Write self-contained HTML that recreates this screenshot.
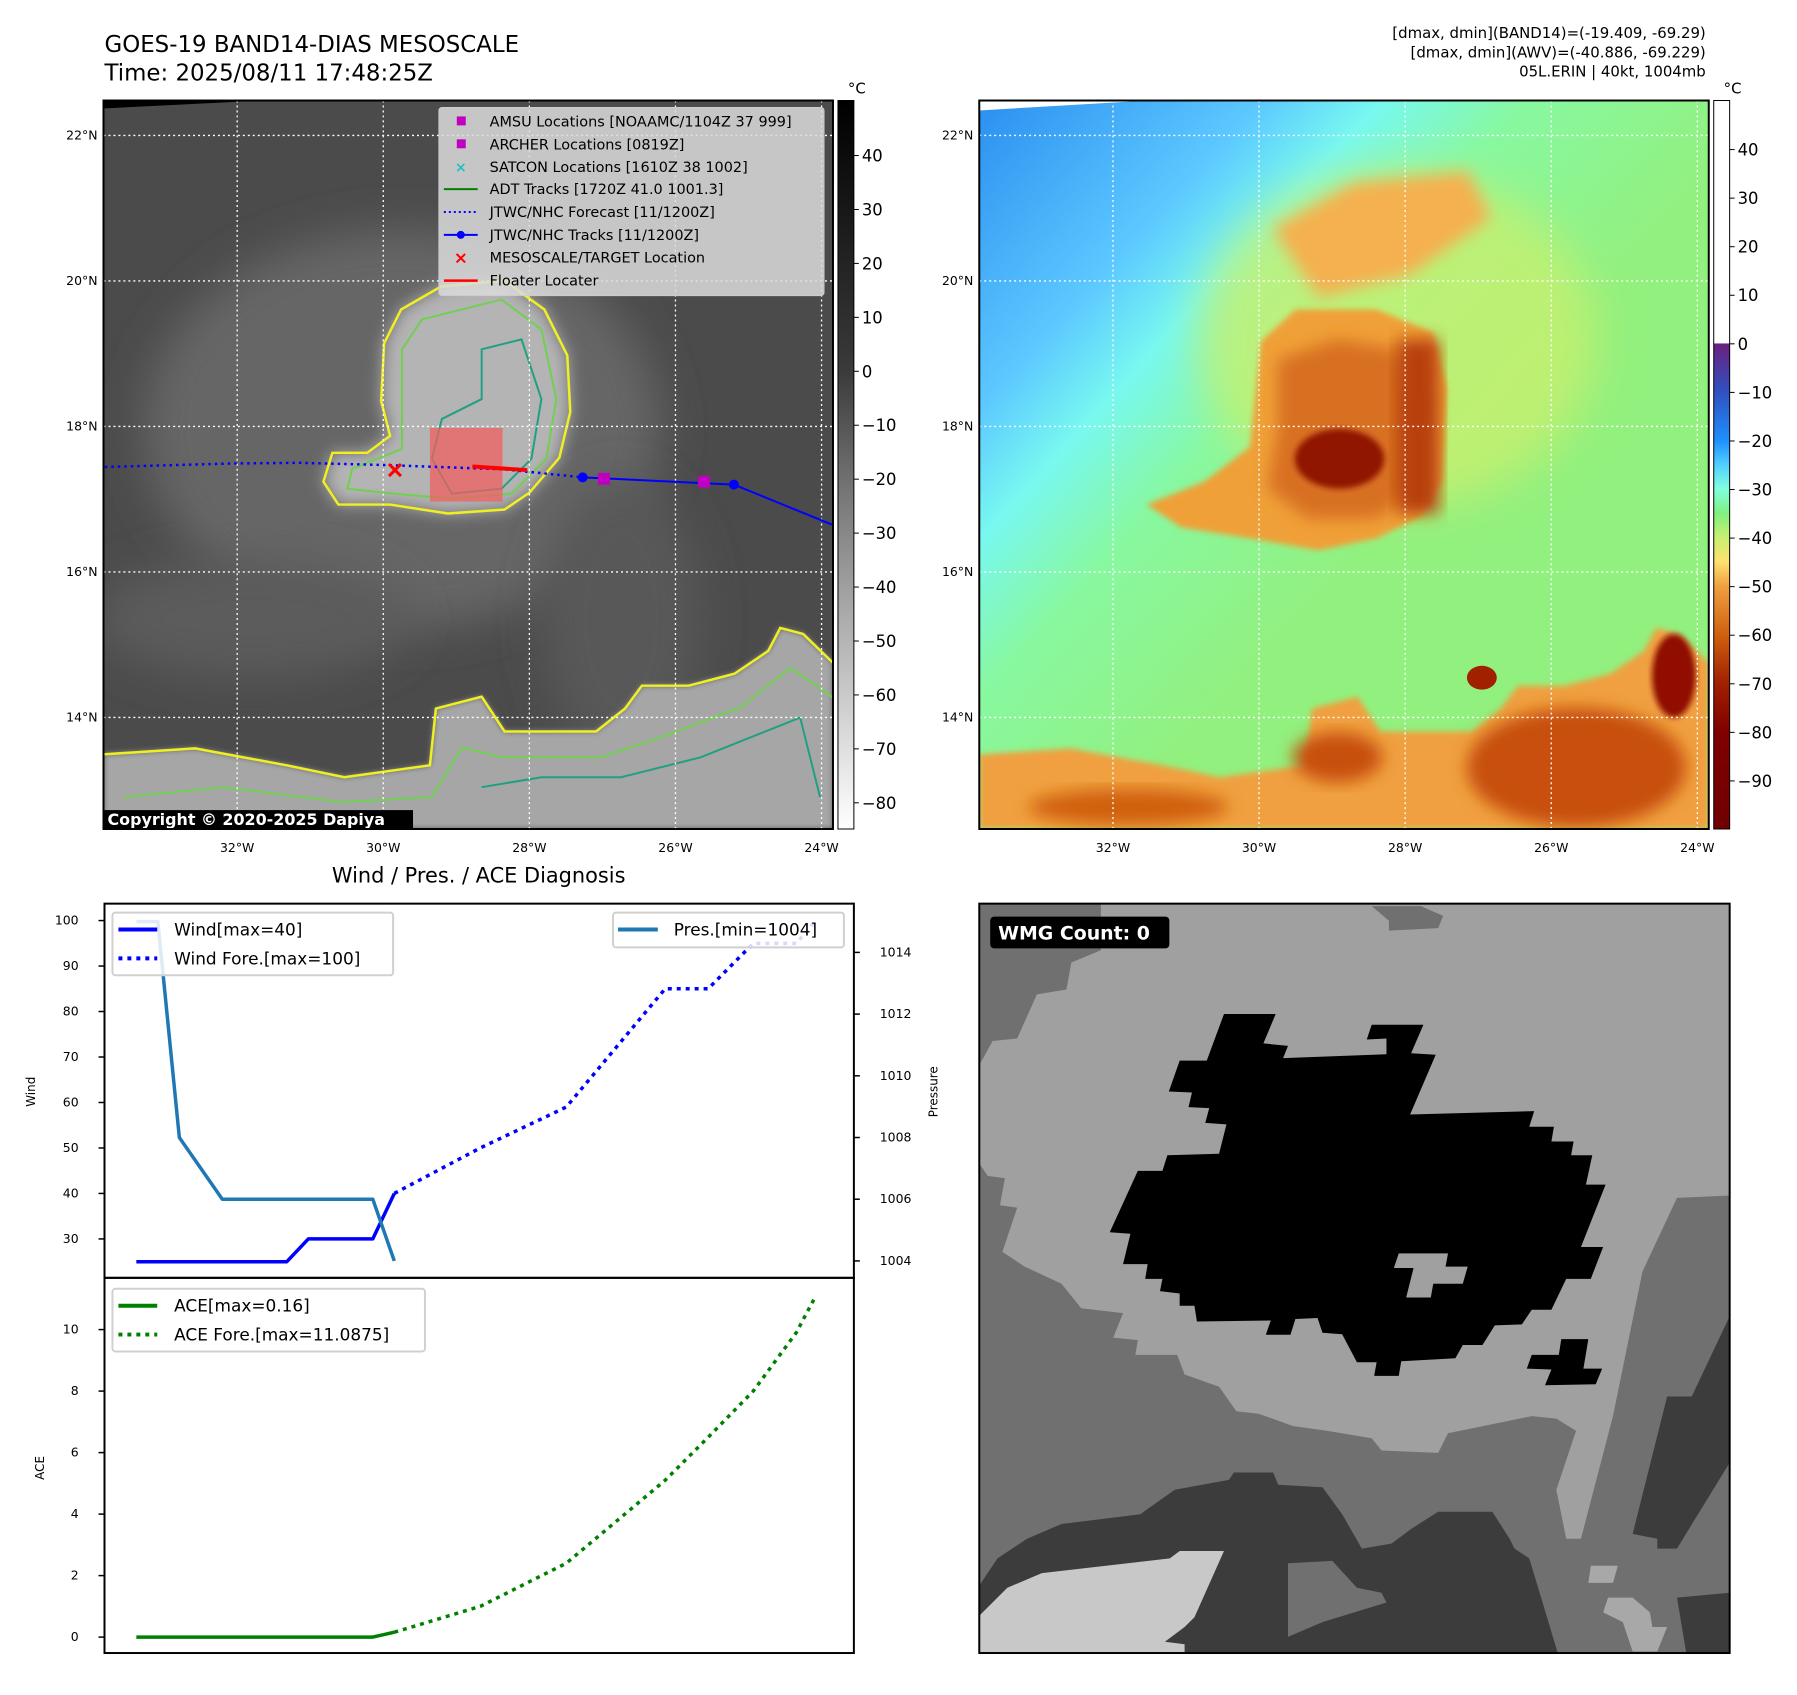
<!DOCTYPE html>
<html><head><meta charset="utf-8"><style>
html,body{margin:0;padding:0;background:#fff;}
svg text{font-family:"DejaVu Sans","Liberation Sans",sans-serif;}
</style></head><body>
<svg id="fig" xmlns="http://www.w3.org/2000/svg" width="1797" height="1690" viewBox="0 0 1797 1690">
<defs>
<filter id="b8" x="-20%" y="-20%" width="140%" height="140%"><feGaussianBlur stdDeviation="8"/></filter>
<filter id="b20" x="-30%" y="-30%" width="160%" height="160%"><feGaussianBlur stdDeviation="22"/></filter>
<filter id="b4"><feGaussianBlur stdDeviation="3"/></filter>
<linearGradient id="cbGray" x1="0" y1="0" x2="0" y2="1">
<stop offset="0" stop-color="#000"/><stop offset="0.37" stop-color="#3a3a3a"/><stop offset="0.52" stop-color="#707070"/><stop offset="0.67" stop-color="#a0a0a0"/><stop offset="1" stop-color="#fff"/></linearGradient>
<linearGradient id="cbCol" x1="0" y1="0" x2="0" y2="1">
<stop offset="0" stop-color="#fff"/><stop offset="0.333" stop-color="#fff"/><stop offset="0.334" stop-color="#6a2080"/><stop offset="0.40" stop-color="#3050c0"/><stop offset="0.467" stop-color="#1e90ff"/><stop offset="0.5" stop-color="#50d0ff"/><stop offset="0.533" stop-color="#80ffe0"/><stop offset="0.567" stop-color="#80f080"/><stop offset="0.6" stop-color="#c8f070"/><stop offset="0.633" stop-color="#ffe070"/><stop offset="0.667" stop-color="#f0a040"/><stop offset="0.733" stop-color="#d06010"/><stop offset="0.8" stop-color="#a02000"/><stop offset="0.867" stop-color="#800000"/><stop offset="1" stop-color="#700000"/></linearGradient>
<linearGradient id="bg2" x1="0" y1="0" x2="0.6" y2="0.55">
<stop offset="0" stop-color="#2a8ff0"/><stop offset="0.35" stop-color="#5cc8ff"/><stop offset="0.5" stop-color="#78f8f0"/><stop offset="0.68" stop-color="#88f8a0"/><stop offset="1" stop-color="#92f07e"/></linearGradient>
<clipPath id="c1"><rect x="0" y="0" width="733" height="732"/></clipPath>
</defs>
<g transform="scale(0.9952)">
<text x="105" y="52" font-size="23">GOES-19 BAND14-DIAS MESOSCALE</text>
<text x="105" y="81" font-size="23">Time: 2025/08/11 17:48:25Z</text>
<g font-size="15" text-anchor="end">
<text x="1714" y="38">[dmax, dmin](BAND14)=(-19.409, -69.29)</text>
<text x="1714" y="58">[dmax, dmin](AWV)=(-40.886, -69.229)</text>
<text x="1714" y="77">05L.ERIN | 40kt, 1004mb</text>
</g>

<!-- MAP 1 -->
<svg id="map1" x="104" y="101" width="733" height="732" viewBox="0 0 733 732">
<g clip-path="url(#c1)">
<rect width="733" height="732" fill="#4b4b4b"/>
<ellipse cx="300" cy="330" rx="260" ry="200" fill="#666" filter="url(#b20)"/>
<ellipse cx="150" cy="520" rx="160" ry="60" fill="#5c5c5c" filter="url(#b20)"/>
<ellipse cx="520" cy="520" rx="80" ry="140" fill="#595959" filter="url(#b20)"/>
<polygon points="0,0 160,0 0,8" fill="#000"/>
<path d="M282,244 L299,210 L339,187 L403,181 L443,210 L466,256 L469,313 L458,359 L428,394 L403,411 L346,415 L288,406 L236,406 L221,383 L230,354 L265,354 L288,337 L279,302Z" fill="#b4b4b4" filter="url(#b8)"/>
<polygon points="0,657 92,651 184,668 242,680 328,668 334,611 380,599 403,634 495,634 524,611 541,588 588,588 634,576 668,553 680,530 703,536 733,565 733,732 0,732" fill="#a6a6a6" filter="url(#b4)"/>
<polyline points="0,657 92,651 184,668 242,680 328,668 334,611 380,599 403,634 495,634 524,611 541,588 588,588 634,576 668,553 680,530 703,536 733,565" fill="none" stroke="#f0f020" stroke-width="2.5"/>
<polyline points="20,700 120,690 240,705 330,700 360,650 400,660 500,660 560,640 640,610 690,570 733,600" fill="none" stroke="#70d050" stroke-width="2"/>
<polyline points="380,690 440,680 520,680 600,660 650,640 700,620 720,700" fill="none" stroke="#20a080" stroke-width="2"/>
<path d="M282,244 L299,210 L339,187 L403,181 L443,210 L466,256 L469,313 L458,359 L428,394 L403,411 L346,415 L288,406 L236,406 L221,383 L230,354 L265,354 L288,337 L279,302Z" fill="none" stroke="#f0f020" stroke-width="2.5"/>
<path d="M300,250 L320,220 L400,200 L440,230 L455,300 L445,360 L410,395 L350,400 L290,395 L245,390 L250,370 L300,350 L300,300Z" fill="none" stroke="#70d050" stroke-width="2"/>
<path d="M380,250 L420,240 L440,300 L430,360 L400,390 L350,395 L330,360 L340,320 L380,300Z" fill="none" stroke="#20a080" stroke-width="2"/>
<rect x="328" y="329" width="73" height="74" fill="#f06060" fill-opacity="0.75"/>
<g id="gridlines1"></g>
<g id="tracks1"></g>
</g>
<rect x="0" y="713" width="311" height="19" fill="#000"/>
<text x="4" y="728" font-size="16" font-weight="bold" fill="#fff">Copyright © 2020-2025 Dapiya</text>
</svg>
<rect x="104" y="101" width="733" height="732" fill="none" stroke="#000" stroke-width="2"/>
<g>
<rect x="441" y="108" width="387" height="189" rx="3" fill="#dcdcdc" fill-opacity="0.85" stroke="#ccc"/>
<g font-size="14.5">
<rect x="459" y="117" width="9" height="9" fill="#c000c0"/><text x="492" y="127">AMSU Locations [NOAAMC/1104Z 37 999]</text>
<rect x="459" y="140" width="9" height="9" fill="#c000c0"/><text x="492" y="150">ARCHER Locations [0819Z]</text>
<text x="463" y="173" font-size="14" fill="#20c0c0" text-anchor="middle" font-weight="bold">×</text><text x="492" y="173">SATCON Locations [1610Z 38 1002]</text>
<line x1="446" y1="190" x2="480" y2="190" stroke="#008000" stroke-width="2"/><text x="492" y="195">ADT Tracks [1720Z 41.0 1001.3]</text>
<line x1="446" y1="213" x2="480" y2="213" stroke="#0000ff" stroke-width="2" stroke-dasharray="2,3"/><text x="492" y="218">JTWC/NHC Forecast [11/1200Z]</text>
<line x1="446" y1="236" x2="480" y2="236" stroke="#0000ff" stroke-width="2"/><circle cx="463" cy="236" r="4" fill="#0000ff"/><text x="492" y="241">JTWC/NHC Tracks [11/1200Z]</text>
<text x="463" y="265" font-size="17" fill="#ff0000" text-anchor="middle" font-weight="bold">×</text><text x="492" y="264">MESOSCALE/TARGET Location</text>
<line x1="446" y1="282" x2="480" y2="282" stroke="#ff0000" stroke-width="2.5"/><text x="492" y="287">Floater Locater</text>
</g></g>
<rect x="842" y="101" width="16" height="732" fill="url(#cbGray)" stroke="#000" stroke-width="1"/>
<text x="852" y="94" font-size="15">°C</text>
<g id="cb1ticks"></g>

<!-- MAP 2 -->
<svg id="map2" x="984" y="101" width="733" height="732" viewBox="0 0 733 732">
<g clip-path="url(#c1)">
<rect width="733" height="732" fill="url(#bg2)"/>
<polygon points="0,0 170,0 0,10" fill="#fff"/>
<ellipse cx="420" cy="240" rx="200" ry="170" fill="#c8f070" filter="url(#b20)" opacity="0.8"/>
<path d="M295,129 L376,83 L491,71 L514,118 L433,175 L341,198Z" fill="#f5b050" filter="url(#b8)"/>
<path d="M283,242 L318,210 L399,210 L456,233 L470,290 L465,382 L445,417 L399,440 L341,452 L272,440 L203,429 L168,406 L226,383 L272,348 L278,291Z" fill="#f0a038" filter="url(#b4)"/>
<path d="M300,260 L360,240 L420,250 L450,300 L440,390 L400,420 L330,420 L290,390 L300,330Z" fill="#d87020" filter="url(#b8)"/>
<rect x="420" y="240" width="42" height="175" fill="#b84010" filter="url(#b8)"/>
<ellipse cx="362" cy="360" rx="45" ry="30" fill="#901800" filter="url(#b4)"/>
<polygon points="0,657 92,651 184,668 242,680 328,668 334,611 380,599 403,634 495,634 524,611 541,588 588,588 634,576 668,553 680,530 703,536 733,565 733,732 0,732" fill="#f0a040" filter="url(#b4)"/>
<ellipse cx="600" cy="670" rx="110" ry="60" fill="#c85010" filter="url(#b8)"/>
<ellipse cx="360" cy="660" rx="45" ry="25" fill="#c85010" filter="url(#b8)"/>
<ellipse cx="150" cy="710" rx="100" ry="18" fill="#d06010" filter="url(#b8)"/>
<ellipse cx="698" cy="578" rx="22" ry="42" fill="#901000" filter="url(#b4)"/>
<ellipse cx="505" cy="580" rx="15" ry="12" fill="#a02000"/>
<g id="gridlines2"></g>
</g>
</svg>
<rect x="984" y="101" width="733" height="732" fill="none" stroke="#000" stroke-width="2"/>
<rect x="1722" y="101" width="16" height="732" fill="url(#cbCol)" stroke="#000" stroke-width="1"/>
<text x="1732" y="94" font-size="15">°C</text>
<g id="cb2ticks"></g>
<g id="axlabels"></g>

<!-- CHART -->
<text x="481" y="887" font-size="21" text-anchor="middle">Wind / Pres. / ACE Diagnosis</text>
<g id="chart"></g>
<rect x="105" y="908" width="753" height="376" fill="none" stroke="#000" stroke-width="2"/>
<rect x="105" y="1284" width="753" height="377" fill="none" stroke="#000" stroke-width="2"/>
<text transform="translate(35,1097) rotate(-90)" font-size="12" text-anchor="middle">Wind</text>
<text transform="translate(942,1097) rotate(-90)" font-size="12" text-anchor="middle">Pressure</text>
<text transform="translate(44,1475) rotate(-90)" font-size="12" text-anchor="middle">ACE</text>
<g>
<rect x="113" y="917" width="282" height="63" rx="3" fill="#fff" fill-opacity="0.85" stroke="#d0d0d0" stroke-width="2"/>
<line x1="119" y1="934" x2="158" y2="934" stroke="#0000ff" stroke-width="4"/>
<line x1="119" y1="963" x2="158" y2="963" stroke="#0000ff" stroke-width="4" stroke-dasharray="4,5"/>
<text x="175" y="940" font-size="17">Wind[max=40]</text><text x="175" y="969" font-size="17">Wind Fore.[max=100]</text></g>
<g>
<rect x="616" y="917" width="232" height="35" rx="3" fill="#fff" fill-opacity="0.85" stroke="#d0d0d0" stroke-width="2"/>
<line x1="621" y1="934" x2="661" y2="934" stroke="#1f77b4" stroke-width="4"/>
<text x="677" y="940" font-size="17">Pres.[min=1004]</text></g>
<g>
<rect x="113" y="1295" width="314" height="63" rx="3" fill="#fff" fill-opacity="0.85" stroke="#d0d0d0" stroke-width="2"/>
<line x1="119" y1="1312" x2="158" y2="1312" stroke="#008000" stroke-width="4"/>
<line x1="119" y1="1341" x2="158" y2="1341" stroke="#008000" stroke-width="4" stroke-dasharray="4,5"/>
<text x="175" y="1318" font-size="17">ACE[max=0.16]</text><text x="175" y="1347" font-size="17">ACE Fore.[max=11.0875]</text></g>

<!-- WMG -->
<svg x="984" y="908" width="754" height="753" viewBox="3 5 1524 1528" preserveAspectRatio="none">
<rect x="0" y="0" width="1530" height="1540" fill="#a0a0a0"/>
<polygon fill="#707070" points="0,0 250,0 250,100 190,125 180,180 120,190 80,280 30,285 0,340"/>
<polygon fill="#707070" points="800,10 900,10 945,30 935,55 835,60 835,40"/>
<polygon fill="#707070" points="0,530 20,560 55,565 45,620 80,625 50,715 95,745 170,780 210,830 295,840 275,890 325,895 320,925 405,925 420,965 490,990 525,1040 570,1045 640,1070 710,1080 800,1095 820,1120 935,1125 955,1085 1125,1050 1175,1055 1215,1080 1175,1200 1195,1300 1225,1300 1290,1050 1350,755 1420,605 1530,600 1530,1540 0,1540"/>
<polygon fill="#3c3c3c" points="1530,840 1450,1010 1400,1010 1330,1290 1380,1300 1380,1320 1420,1320 1530,1140"/>
<polygon fill="#3c3c3c" points="0,1400 40,1340 100,1300 170,1270 330,1250 400,1200 510,1180 520,1165 600,1165 610,1190 700,1195 740,1250 780,1320 840,1310 880,1280 935,1245 1045,1245 1080,1300 1090,1320 1120,1340 1150,1440 1180,1540 0,1540"/>
<polygon fill="#707070" points="630,1350 720,1345 770,1400 820,1410 830,1430 700,1470 630,1500"/>
<polygon fill="#3c3c3c" points="1420,1420 1530,1410 1530,1540 1440,1540"/>
<polygon fill="#c8c8c8" points="0,1460 60,1400 130,1370 390,1340 410,1325 500,1325 440,1460 420,1480 380,1510 420,1515 420,1540 0,1540"/>
<polygon fill="#a8a8a8" points="1245,1355 1300,1355 1290,1390 1240,1390"/>
<polygon fill="#a8a8a8" points="1280,1420 1330,1420 1365,1450 1370,1480 1400,1480 1380,1530 1330,1530 1310,1470 1270,1450"/>
<polygon fill="#000" points="500,230 605,230 580,290 630,295 620,320 830,312 830,280 790,282 800,252 905,252 880,310 930,313 878,435 1130,428 1120,460 1170,460 1165,490 1210,490 1205,518 1248,518 1235,578 1275,578 1225,705 1270,705 1245,770 1195,770 1165,833 1125,833 1105,863 1050,865 1025,905 985,905 970,932 860,938 855,968 805,968 810,940 770,940 740,883 700,880 690,850 645,852 635,884 585,884 595,855 445,857 440,825 410,825 410,800 370,795 375,770 340,770 345,740 295,740 310,678 268,675 325,550 375,550 385,518 490,515 505,455 462,452 470,422 428,420 435,390 388,388 410,325 465,325"/>
<polygon fill="#a0a0a0" points="855,718 955,718 950,745 995,745 985,780 925,780 920,808 870,808 885,748 845,748"/>
<polygon fill="#000" points="1185,893 1240,893 1230,953 1268,953 1255,985 1152,987 1165,955 1115,953 1125,925 1180,925"/>
</svg>
<rect x="984" y="908" width="754" height="753" fill="none" stroke="#000" stroke-width="2"/>
<rect x="995" y="921" width="180" height="32" rx="4" fill="#000"/>
<text x="1003" y="944" font-size="19" font-weight="bold" fill="#fff">WMG Count: 0</text>
</g>
</svg>

<script>
// chart data
const windObsIdx=[0,1,2,3,4,5,6,7,8,9,10,11,12];
const windObs=[25,25,25,25,25,25,25,25,30,30,30,30,40];
const presObs=[1015,1015,1008,1007,1006,1006,1006,1006,1006,1006,1006,1006,1004];
const foreIdx=[12,16,20,24.6,26.6,28.7,30.7,31.6];
const windFore=[40,50,59,85,85,95,95,100];
const aceObs=[0,0,0,0,0,0,0,0,0,0,0,0,0.16];
const aceFore=[0.16,1.0,2.4,5.1,6.5,8.0,9.9,11.09];
const windTicks=[30,40,50,60,70,80,90,100];
const presTicks=[1004,1006,1008,1010,1012,1014];
const aceTicks=[0,2,4,6,8,10];
// map data
const lonTicks=[-32,-30,-28,-26,-24];
const latTicks=[22,20,18,16,14];
const fcstLon=[-33.9,-32.1,-31.16,-30.0,-28.34,-27.27];
const fcstLat=[17.44,17.49,17.5,17.47,17.41,17.30];
const trackLon=[-27.27,-25.20,-23.0];
const trackLat=[17.30,17.20,16.3];
const amsuLon=[-26.98,-25.61];
const amsuLat=[17.28,17.24];
const targetLon=[-29.84];
const targetLat=[17.40];
const floaterLon=[-28.78,-28.03];
const floaterLat=[17.45,17.40];
const cb1Ticks=[40,30,20,10,0,-10,-20,-30,-40,-50,-60,-70,-80];
const cb2Ticks=[40,30,20,10,0,-10,-20,-30,-40,-50,-60,-70,-80,-90];

const NS='http://www.w3.org/2000/svg';
function mk(tag,attrs,parent){const e=document.createElementNS(NS,tag);for(const k in attrs)e.setAttribute(k,attrs[k]);parent.appendChild(e);return e;}
const xI=i=>137+i*21.6;
const yW=v=>925+(100-v)*4.57;
const yP=v=>1267-(v-1004)*31;
const yA=v=>1645-v*30.9;
const chart=document.getElementById('chart');
function line(xs,ys,fx,fy,color,dash,name){
  const pts=xs.map((x,i)=>fx(x).toFixed(1)+','+fy(ys[i]).toFixed(1)).join(' ');
  const p=mk('polyline',{points:pts,fill:'none',stroke:color,'stroke-width':3.5,'stroke-linejoin':'round'},chart);
  if(dash)p.setAttribute('stroke-dasharray','4,5');
  
  
}
line(windObsIdx,windObs,xI,yW,'#0000ff',false,'wind-observed-line');
line(foreIdx,windFore,xI,yW,'#0000ff',true,'wind-forecast-line');
line(windObsIdx,presObs,xI,yP,'#1f77b4',false,'pressure-line');
line(windObsIdx,aceObs,xI,yA,'#008000',false,'ace-observed-line');
line(foreIdx,aceFore,xI,yA,'#008000',true,'ace-forecast-line');
windTicks.forEach(v=>{const y=yW(v);mk('line',{x1:99,y1:y,x2:105,y2:y,stroke:'#000','stroke-width':1.5},chart);
  const t=mk('text',{x:79,y:y+4,'font-size':12.5,'text-anchor':'end'},chart);t.textContent=v;
  
  });
presTicks.forEach(v=>{const y=yP(v);mk('line',{x1:858,y1:y,x2:864,y2:y,stroke:'#000','stroke-width':1.5},chart);
  const t=mk('text',{x:884,y:y+4,'font-size':12.5},chart);t.textContent=v;
  
  });
aceTicks.forEach(v=>{const y=yA(v);mk('line',{x1:99,y1:y,x2:105,y2:y,stroke:'#000','stroke-width':1.5},chart);
  const t=mk('text',{x:79,y:y+4,'font-size':12.5,'text-anchor':'end'},chart);t.textContent=v;
  
  });

// maps
const mx=lon=>(lon+33.83)*73.4;
const my=lat=>(22.48-lat)*73.1;
['gridlines1','gridlines2'].forEach(id=>{const g=document.getElementById(id);
  lonTicks.forEach(l=>mk('line',{x1:mx(l),y1:0,x2:mx(l),y2:732,stroke:'#fff','stroke-width':1.3,'stroke-dasharray':'2,3'},g));
  latTicks.forEach(l=>mk('line',{x1:0,y1:my(l),x2:733,y2:my(l),stroke:'#fff','stroke-width':1.3,'stroke-dasharray':'2,3'},g));});
const tr=document.getElementById('tracks1');
const fc=mk('polyline',{points:fcstLon.map((l,i)=>mx(l)+','+my(fcstLat[i])).join(' '),fill:'none',stroke:'#0000ff','stroke-width':2.5,'stroke-dasharray':'2.5,4'},tr);


const tk=mk('polyline',{points:trackLon.map((l,i)=>mx(l)+','+my(trackLat[i])).join(' '),fill:'none',stroke:'#0000ff','stroke-width':2},tr);


trackLon.forEach((l,i)=>{const c=mk('circle',{cx:mx(l),cy:my(trackLat[i]),r:5,fill:'#0000ff'},tr);
  
  });
amsuLon.forEach((l,i)=>{const r=mk('rect',{x:mx(l)-6,y:my(amsuLat[i])-6,width:12,height:12,fill:'#c000c0'},tr);
  
  });
targetLon.forEach((l,i)=>{const x=mx(l),y=my(targetLat[i]);
  const g=mk('g',{stroke:'#ff0000','stroke-width':3},tr);
  
  
  mk('line',{x1:x-6,y1:y-6,x2:x+6,y2:y+6},g);mk('line',{x1:x-6,y1:y+6,x2:x+6,y2:y-6},g);});
const fl=mk('polyline',{points:floaterLon.map((l,i)=>mx(l)+','+my(floaterLat[i])).join(' '),fill:'none',stroke:'#ff0000','stroke-width':4},tr);



const ax=document.getElementById('axlabels');
[104,984].forEach(ox=>{
  lonTicks.forEach(l=>{const t=mk('text',{x:ox+mx(l),y:856,'font-size':12.5,'text-anchor':'middle'},ax);t.textContent=Math.abs(l)+'°W';
    
    });
  latTicks.forEach(l=>{const t=mk('text',{x:ox-6,y:101+my(l)+4,'font-size':12.5,'text-anchor':'end'},ax);t.textContent=l+'°N';
    
    });
});
const c1=document.getElementById('cb1ticks');
cb1Ticks.forEach(v=>{const y=101+(50.2-v)*5.42;mk('line',{x1:858,y1:y,x2:863,y2:y,stroke:'#000'},c1);
  const t=mk('text',{x:866,y:y+6,'font-size':16.5},c1);t.textContent=v<0?'\u2212'+(-v):v;
  
  });
const c2=document.getElementById('cb2ticks');
cb2Ticks.forEach(v=>{const y=101+(50.1-v)*4.88;mk('line',{x1:1738,y1:y,x2:1743,y2:y,stroke:'#000'},c2);
  const t=mk('text',{x:1746,y:y+6,'font-size':16.5},c2);t.textContent=v<0?'\u2212'+(-v):v;
  
  });
</script>
</body></html>
